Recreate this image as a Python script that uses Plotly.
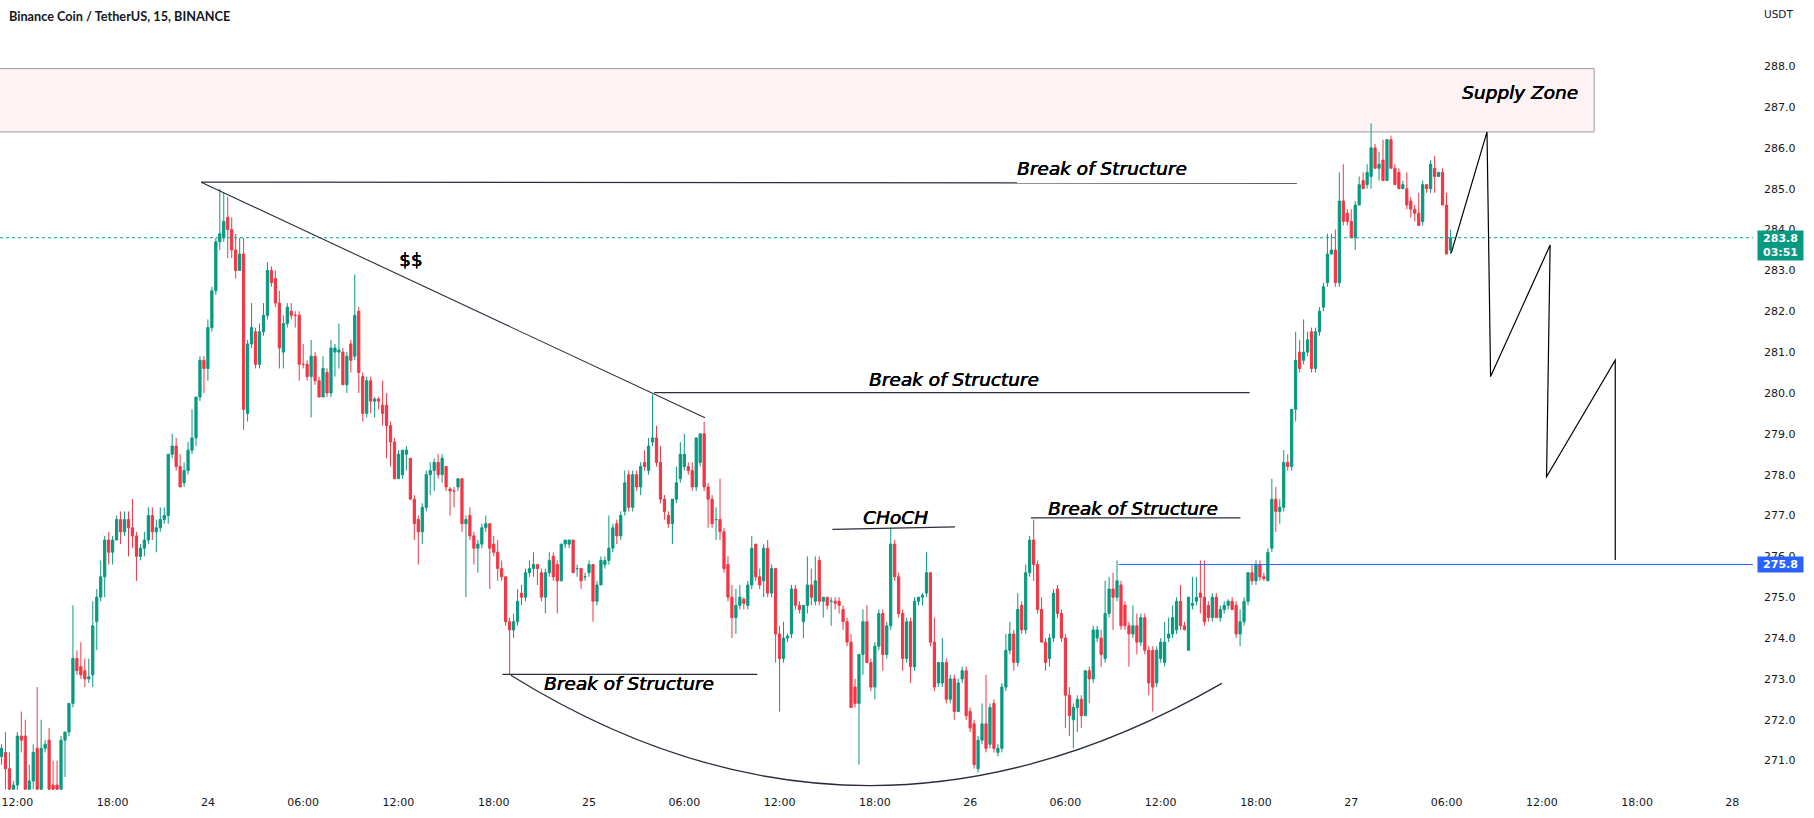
import plotly.graph_objects as go

# ---------------- data: 15-minute BNB/USDT candles ----------------
opens = [
    271.1, 271.2, 270.8, 270.3, 270.4, 271.6, 271.6, 270.3, 270.5, 271.3,
    270.3, 271.3, 271.5, 270.4, 270.4, 270.3, 271.5, 271.7, 272.4, 273.5,
    273.3, 273.2, 273.0, 273.1, 274.4, 275.0, 275.5, 276.4, 276.1, 276.4,
    276.9, 276.6, 276.9, 276.7, 276.5, 276.0, 276.2, 276.4, 277.0, 276.6,
    276.7, 276.9, 277.0, 278.5, 278.7, 278.2, 277.8, 278.1, 278.6, 278.9,
    279.9, 280.8, 280.6, 281.6, 282.5, 283.7, 283.8, 284.3, 284.0, 283.5,
    283.0, 283.4, 279.5, 281.2, 281.5, 280.7, 281.5, 281.9, 283.0, 282.8,
    282.2, 281.0, 281.7, 282.0, 281.9, 281.9, 280.7, 280.7, 280.4, 280.9,
    280.3, 279.9, 280.5, 280.0, 281.0, 281.0, 281.0, 280.2, 281.2, 280.9,
    282.0, 280.4, 279.5, 280.3, 279.8, 279.85, 279.7, 279.7, 279.2, 278.8,
    277.9, 278.0, 278.5, 278.4, 277.4, 276.9, 276.6, 277.2, 278.0, 278.1,
    278.3, 278.0, 278.2, 277.65, 277.6, 277.7, 277.9, 276.8, 277.0, 276.5,
    276.2, 276.3, 276.7, 276.8, 276.3, 276.1, 275.7, 275.5, 274.4, 274.2,
    274.4, 275.1, 275.0, 275.6, 275.7, 275.8, 275.6, 275.0, 275.6, 276.0,
    275.8, 275.4, 276.3, 276.3, 276.4, 275.7, 275.7, 275.5, 275.6, 275.8,
    274.9, 275.3, 275.8, 275.9, 276.2, 276.8, 276.5, 277.1, 278.0, 277.2,
    278.0, 277.7, 278.3, 278.1, 278.8, 278.9, 278.3, 277.4, 277.0, 276.8,
    277.4, 277.9, 278.2, 278.2, 278.1, 277.7, 278.3, 279.0, 277.7, 277.4,
    276.9, 276.9, 276.6, 275.8, 275.0, 274.5, 274.8, 274.95, 274.8, 275.3,
    276.3, 275.5, 275.4, 276.2, 275.1, 275.7, 274.1, 273.5, 274.0, 274.1,
    275.2, 274.8, 274.4, 274.8, 275.3, 274.9, 275.9, 274.9, 275.0, 274.9,
    274.9, 274.9, 274.7, 274.4, 273.9, 272.8, 272.4, 273.6, 274.4, 273.4,
    272.8, 273.8, 274.6, 273.6, 274.3, 276.3, 275.5, 274.6, 273.5, 274.4,
    273.3, 274.9, 275.0, 275.1, 275.6, 273.9, 272.9, 272.9, 273.4, 272.5,
    273.0, 272.2, 273.0, 273.2, 272.2, 271.9, 270.8, 271.5, 271.9, 271.4,
    272.4, 271.2, 271.3, 272.8, 273.7, 274.1, 273.4, 274.8, 274.2, 275.6,
    276.4, 275.8, 274.7, 273.9, 273.5, 274.0, 275.2, 274.6, 274.0, 272.6,
    272.0, 272.3, 272.5, 272.1, 273.2, 273.0, 274.0, 274.0, 273.5, 274.6,
    275.2, 275.0, 275.3, 274.8, 274.3, 274.1, 274.3, 273.9, 274.5, 273.7,
    273.7, 272.9, 273.5, 273.4, 274.0, 274.1, 274.2, 274.9, 274.3, 273.7,
    274.8, 274.9, 275.1, 275.0, 274.8, 274.5, 275.0, 274.5, 274.7, 274.8,
    274.9, 274.8, 274.1, 274.4, 274.9, 275.6, 275.4, 275.8, 275.5, 275.4,
    276.2, 277.4, 277.1, 277.2, 278.3, 278.2, 279.6, 281.0, 280.8, 281.0,
    281.5, 280.6, 281.5, 282.1, 282.7, 283.4, 283.5, 282.7, 284.7, 284.4,
    284.2, 283.8, 284.6, 285.2, 285.1, 285.3, 286.0, 285.5, 285.7, 285.2,
    286.2, 285.5, 285.4, 285.0, 285.0, 284.7, 284.5, 284.4, 284.2, 285.1,
    285.0, 285.5, 285.3, 285.4, 284.6, 283.5,
]
highs = [
    271.4, 271.7, 271.2, 270.5, 271.7, 272.2, 272.0, 270.9, 271.4, 272.8,
    272.0, 271.5, 271.8, 271.0, 271.0, 271.6, 271.7, 272.4, 274.8, 273.7,
    273.9, 273.5, 273.5, 274.9, 275.2, 275.9, 276.5, 276.6, 276.5, 277.0,
    277.1, 277.1, 277.1, 277.4, 276.6, 276.3, 276.6, 277.2, 277.2, 276.9,
    277.2, 277.2, 278.5, 279.0, 278.9, 278.5, 278.3, 278.8, 279.6, 279.9,
    280.9, 280.9, 281.8, 282.6, 283.8, 285.0, 284.9, 284.8, 284.3, 283.9,
    283.8, 283.8, 281.3, 282.2, 281.6, 281.7, 282.2, 283.2, 283.1, 283.0,
    282.5, 281.9, 282.2, 282.2, 282.0, 282.0, 281.2, 280.8, 281.3, 281.0,
    280.4, 280.9, 280.6, 281.3, 281.2, 281.7, 281.1, 281.0, 281.3, 282.9,
    282.1, 280.5, 280.4, 280.4, 279.9, 279.9, 280.3, 280.0, 279.3, 278.9,
    278.6, 278.6, 278.7, 278.4, 277.5, 277.0, 277.3, 278.1, 278.3, 278.4,
    278.5, 278.5, 278.2, 277.7, 277.7, 277.9, 277.9, 277.0, 277.2, 276.6,
    276.4, 276.8, 277.0, 276.8, 276.5, 276.4, 275.9, 275.5, 274.5, 274.6,
    275.2, 275.3, 275.7, 275.9, 276.1, 275.8, 275.7, 275.7, 276.1, 276.1,
    275.9, 276.3, 276.4, 276.4, 276.4, 275.8, 275.7, 275.6, 275.9, 275.8,
    275.4, 276.0, 276.0, 277.0, 276.8, 276.9, 277.1, 278.1, 278.1, 278.1,
    278.1, 278.3, 278.6, 278.9, 279.96, 279.2, 278.7, 277.5, 277.1, 277.4,
    278.2, 278.8, 279.0, 278.3, 278.3, 278.9, 279.0, 279.3, 277.8, 277.5,
    277.2, 277.9, 276.7, 276.0, 275.3, 275.2, 275.3, 275.0, 275.4, 276.5,
    276.3, 275.7, 276.3, 276.4, 275.8, 275.7, 274.3, 274.4, 274.1, 275.3,
    275.3, 274.9, 274.8, 276.0, 275.7, 276.0, 276.0, 275.0, 275.0, 275.0,
    275.0, 275.0, 274.8, 274.5, 274.1, 273.0, 273.6, 274.7, 274.8, 273.5,
    273.9, 274.7, 274.7, 274.4, 276.7, 276.4, 275.6, 274.7, 274.5, 274.5,
    275.0, 275.0, 275.1, 276.1, 275.6, 274.5, 273.4, 274.0, 273.5, 273.1,
    273.1, 273.0, 273.3, 273.3, 272.3, 272.0, 271.6, 272.4, 273.1, 272.4,
    272.5, 271.4, 272.9, 274.1, 274.4, 274.2, 275.1, 274.9, 275.8, 276.5,
    276.9, 275.9, 275.0, 274.0, 274.1, 275.2, 275.3, 274.7, 274.1, 272.8,
    272.4, 272.6, 272.6, 273.2, 273.3, 274.3, 274.3, 274.2, 275.4, 275.5,
    275.6, 275.9, 275.4, 274.9, 274.4, 274.8, 274.6, 274.6, 274.6, 273.8,
    273.8, 273.8, 274.0, 274.4, 274.5, 274.8, 275.0, 275.3, 274.4, 275.0,
    275.5, 275.5, 275.9, 275.9, 274.9, 275.1, 275.1, 274.8, 274.9, 274.95,
    275.0, 274.9, 274.7, 275.0, 275.6, 275.8, 275.9, 275.9, 275.6, 276.2,
    277.9, 277.7, 277.4, 278.6, 278.5, 279.6, 281.5, 281.3, 281.8, 281.5,
    281.6, 281.6, 282.1, 282.7, 283.9, 283.9, 284.0, 285.4, 285.6, 284.5,
    284.5, 284.7, 285.3, 285.4, 285.6, 286.6, 286.1, 285.9, 286.2, 286.2,
    286.3, 285.6, 285.5, 285.2, 285.4, 284.8, 284.6, 284.9, 285.2, 285.1,
    285.7, 285.8, 285.4, 285.5, 284.9, 284.0,
]
lows = [
    270.9, 270.3, 270.2, 270.2, 270.2, 271.2, 270.2, 270.2, 270.3, 270.2,
    270.2, 271.2, 270.2, 270.2, 270.2, 270.2, 270.6, 271.6, 272.3, 273.1,
    273.0, 272.8, 272.9, 272.8, 273.7, 274.9, 275.0, 275.8, 275.8, 276.4,
    276.3, 276.5, 276.0, 276.2, 275.4, 275.9, 276.0, 276.3, 276.4, 276.1,
    276.6, 276.8, 276.8, 278.4, 278.1, 277.7, 277.7, 278.0, 278.5, 278.7,
    279.8, 280.0, 280.3, 281.5, 282.4, 283.5, 283.7, 283.3, 283.3, 282.8,
    283.0, 279.1, 279.3, 281.1, 280.6, 280.6, 281.4, 281.8, 282.6, 282.1,
    280.6, 280.6, 281.6, 281.8, 281.6, 280.3, 280.6, 280.3, 279.4, 280.2,
    279.9, 279.9, 279.9, 279.9, 280.4, 280.6, 280.2, 280.0, 280.5, 280.8,
    280.0, 279.3, 279.4, 279.5, 279.4, 279.6, 279.2, 278.4, 278.2, 277.9,
    277.9, 277.9, 278.1, 277.4, 276.4, 275.8, 276.3, 277.1, 277.5, 277.6,
    277.9, 277.8, 277.6, 277.0, 277.2, 277.6, 276.6, 275.0, 276.4, 275.8,
    275.6, 276.2, 276.6, 275.2, 276.0, 275.4, 275.4, 274.3, 273.1, 274.0,
    274.3, 274.8, 274.9, 275.5, 275.5, 275.3, 274.9, 274.6, 275.5, 275.4,
    274.6, 275.4, 276.2, 276.2, 275.6, 275.5, 275.2, 275.4, 275.5, 274.4,
    274.8, 275.3, 275.7, 275.8, 276.1, 276.3, 276.4, 277.0, 277.1, 277.1,
    277.6, 277.5, 278.1, 278.0, 278.7, 278.2, 277.3, 276.9, 276.7, 276.3,
    277.3, 277.8, 278.1, 278.0, 277.6, 277.6, 278.2, 277.6, 276.7, 276.7,
    276.4, 276.4, 275.6, 274.9, 274.0, 274.1, 274.7, 274.7, 274.7, 275.2,
    275.4, 275.2, 275.0, 275.0, 275.0, 273.4, 272.2, 273.4, 273.9, 274.0,
    274.7, 274.6, 274.0, 274.6, 274.8, 274.8, 274.8, 274.5, 274.7, 274.3,
    274.7, 274.6, 274.2, 273.8, 272.3, 272.3, 270.9, 273.1, 273.4, 272.7,
    272.5, 273.7, 273.2, 273.5, 274.2, 275.4, 274.5, 273.2, 273.4, 272.9,
    273.2, 274.8, 274.8, 275.0, 273.8, 272.7, 272.8, 272.8, 272.4, 272.4,
    272.0, 272.2, 272.9, 272.0, 271.7, 270.8, 270.7, 271.4, 271.2, 271.3,
    271.2, 271.1, 271.2, 272.7, 273.6, 273.2, 273.3, 274.1, 274.1, 275.5,
    275.4, 274.6, 273.9, 273.2, 273.3, 273.9, 274.5, 273.9, 271.8, 271.6,
    271.3, 271.7, 271.8, 272.1, 272.4, 272.9, 273.9, 273.3, 273.4, 274.5,
    274.2, 274.9, 274.2, 274.2, 273.3, 274.0, 273.6, 273.8, 273.6, 272.6,
    272.2, 272.8, 273.4, 273.3, 273.9, 274.0, 274.1, 274.2, 274.2, 273.7,
    274.7, 274.8, 274.6, 274.3, 274.4, 274.4, 274.5, 274.4, 274.6, 274.7,
    274.7, 274.0, 273.8, 274.3, 274.8, 275.3, 275.3, 275.4, 275.4, 275.4,
    276.1, 276.6, 276.8, 277.1, 278.1, 278.1, 279.3, 280.5, 280.7, 280.9,
    280.5, 280.5, 281.4, 282.0, 282.6, 283.4, 282.6, 282.6, 284.1, 284.1,
    283.8, 283.5, 284.6, 285.0, 285.0, 285.0, 285.5, 285.2, 285.2, 285.2,
    285.5, 285.1, 285.0, 285.0, 284.5, 284.3, 284.2, 284.1, 284.1, 284.9,
    284.9, 284.9, 285.3, 284.6, 283.4, 283.4,
]
closes = [
    271.3, 270.8, 270.3, 270.4, 271.6, 271.5, 270.3, 270.5, 271.2, 270.3,
    271.3, 271.4, 270.3, 270.3, 270.3, 271.5, 271.7, 272.4, 273.5, 273.2,
    273.1, 273.0, 273.05, 274.3, 275.0, 275.5, 276.4, 276.1, 276.4, 276.9,
    276.6, 276.9, 276.7, 276.5, 276.0, 276.2, 276.4, 277.0, 276.6, 276.7,
    276.9, 277.0, 278.5, 278.7, 278.2, 277.7, 278.1, 278.6, 278.9, 279.9,
    280.8, 280.6, 281.6, 282.5, 283.7, 283.9, 284.2, 284.0, 283.5, 283.0,
    283.4, 279.6, 281.2, 281.6, 280.7, 281.5, 281.9, 283.0, 282.7, 282.2,
    281.1, 281.7, 282.1, 281.9, 281.9, 280.7, 280.7, 280.4, 280.9, 280.3,
    279.9, 280.6, 280.0, 281.1, 281.1, 281.05, 280.2, 280.9, 280.8, 281.9,
    280.5, 279.5, 280.3, 279.8, 279.85, 279.8, 279.5, 279.2, 278.8, 277.9,
    278.5, 278.6, 278.6, 277.4, 276.8, 276.6, 277.2, 278.0, 278.1, 278.3,
    278.0, 278.4, 277.7, 277.6, 277.6, 277.9, 276.8, 276.9, 276.5, 276.2,
    276.3, 276.7, 276.8, 276.2, 276.1, 275.7, 275.5, 274.4, 274.2, 274.4,
    274.9, 275.0, 275.6, 275.7, 275.8, 275.7, 275.0, 275.6, 275.9, 275.5,
    275.4, 276.3, 276.4, 276.4, 275.6, 275.7, 275.4, 275.5, 275.8, 274.9,
    275.3, 275.9, 275.9, 276.2, 276.7, 276.5, 277.0, 277.8, 277.2, 278.0,
    277.7, 278.2, 278.2, 278.7, 278.9, 278.3, 277.4, 277.1, 276.8, 277.4,
    277.8, 278.5, 278.5, 278.1, 277.7, 278.9, 279.0, 277.7, 277.4, 276.8,
    276.9, 276.6, 275.7, 275.0, 274.5, 274.8, 275.0, 274.85, 275.3, 276.2,
    275.5, 275.3, 276.2, 275.1, 275.7, 274.1, 273.5, 274.0, 274.05, 275.2,
    274.8, 274.7, 274.8, 275.3, 275.0, 275.4, 274.9, 275.0, 274.8, 274.9,
    274.85, 274.8, 274.4, 273.9, 272.3, 272.4, 273.6, 274.4, 273.4, 272.8,
    273.8, 274.6, 273.6, 274.3, 276.3, 275.5, 274.6, 273.5, 274.4, 273.3,
    274.9, 275.0, 275.05, 275.6, 273.9, 272.8, 273.4, 273.4, 272.5, 273.0,
    272.2, 272.9, 273.2, 272.1, 271.8, 270.9, 271.5, 271.9, 271.3, 272.3,
    271.3, 271.3, 272.8, 273.7, 274.1, 273.4, 274.7, 274.2, 275.6, 276.4,
    275.8, 274.7, 273.9, 273.4, 274.0, 275.1, 274.6, 274.0, 272.6, 272.1,
    272.3, 272.5, 272.1, 273.2, 273.0, 274.2, 274.2, 273.6, 274.6, 275.2,
    275.0, 275.4, 274.3, 274.3, 274.1, 274.3, 273.9, 274.5, 273.7, 272.9,
    272.8, 273.7, 273.9, 273.9, 274.1, 274.5, 274.9, 274.3, 274.2, 275.0,
    274.85, 275.0, 275.0, 274.4, 274.5, 275.0, 274.5, 274.7, 274.8, 274.9,
    274.7, 274.1, 274.4, 274.9, 275.6, 275.4, 275.8, 275.5, 275.45, 276.1,
    277.4, 277.1, 277.2, 278.3, 278.2, 279.6, 280.8, 280.6, 281.0, 281.3,
    280.6, 281.5, 282.0, 282.6, 283.4, 283.5, 282.7, 284.7, 284.2, 284.2,
    283.8, 284.6, 285.1, 285.0, 285.4, 286.0, 285.5, 285.6, 285.2, 286.2,
    285.5, 285.1, 285.0, 285.1, 284.6, 284.5, 284.4, 284.1, 285.1, 285.0,
    285.6, 285.3, 285.4, 284.6, 283.4, 283.8,
]

time_tick_labels = ["12:00", "18:00", "24", "06:00", "12:00", "18:00", "25", "06:00",
                    "12:00", "18:00", "26", "06:00", "12:00", "18:00", "27", "06:00",
                    "12:00", "18:00", "28"]
price_ticks = [271.0, 272.0, 273.0, 274.0, 275.0, 276.0, 277.0, 278.0, 279.0,
               280.0, 281.0, 282.0, 283.0, 284.0, 285.0, 286.0, 287.0, 288.0]
last_price = 283.8
countdown = "03:51"
target_level = 275.8
title_text = "Binance Coin / TetherUS, 15, BINANCE"

assert len(opens) == len(highs) == len(lows) == len(closes)

# bar index: 15-minute bars counted from 23rd 12:00 (first visible bar is 4 bars earlier)
FIRST_BAR = -4
bars = list(range(FIRST_BAR, FIRST_BAR + len(closes)))
BARS_PER_6H = 24
tick_positions = [k * BARS_PER_6H for k in range(len(time_tick_labels))]

X_RANGE = [-4.37, 437.2]
Y_RANGE = [270.28, 289.62]

UP = "#089981"
DOWN = "#f23645"
INK = "#131722"
LINE = "#2a2e39"

fig = go.Figure()
fig.add_trace(go.Candlestick(
    x=bars, open=opens, high=highs, low=lows, close=closes,
    increasing=dict(line=dict(color=UP, width=1), fillcolor=UP),
    decreasing=dict(line=dict(color=DOWN, width=1), fillcolor=DOWN),
    whiskerwidth=0, showlegend=False, hoverinfo="skip",
))

shapes = []
# supply zone
shapes.append(dict(type="rect", xref="x", yref="y", x0=-20, x1=397.2, y0=286.39, y1=287.94,
                   fillcolor="#fdf3f4", line=dict(color="#9a9ca3", width=1), layer="below"))
# current price dotted line
shapes.append(dict(type="line", xref="paper", yref="y", x0=0, x1=1, y0=last_price, y1=last_price,
                   line=dict(color=UP, width=1, dash="dot")))
# target horizontal line
shapes.append(dict(type="line", xref="x", yref="y", x0=277.4, x1=X_RANGE[1], y0=target_level, y1=target_level,
                   line=dict(color="#2962ff", width=1)))

def seg(x0, y0, x1, y1, w=1.2):
    return dict(type="line", xref="x", yref="y", x0=x0, y0=y0, x1=x1, y1=y1,
                line=dict(color=LINE, width=w))

shapes.append(seg(46.3, 285.16, 322.3, 285.14, 1.3))     # upper BOS
shapes.append(seg(46.3, 285.16, 173.2, 279.39, 1.1))     # liquidity trend line
shapes.append(seg(160.4, 280.01, 310.4, 280.01, 1.3))    # middle BOS
shapes.append(seg(122.2, 273.11, 186.4, 273.11, 1.3))    # lower-left BOS
shapes.append(seg(205.3, 276.66, 236.2, 276.72, 1.3))    # CHoCH
shapes.append(seg(255.3, 276.94, 308.1, 276.94, 1.3))    # right BOS
# rounded bottom arc
shapes.append(dict(type="path", xref="x", yref="y",
                   path="M 124.3,273.09 Q 212.15,267.79 303.4,272.89",
                   line=dict(color=LINE, width=1.3)))
# projected zig-zag
zig = [(361.2, 283.43), (370.2, 286.39), (371.1, 280.40), (386.1, 283.62),
       (385.2, 277.95), (402.5, 280.80), (402.5, 275.91)]
zpath = "M " + " L ".join(f"{a},{b}" for a, b in zig)
shapes.append(dict(type="path", xref="x", yref="y", path=zpath,
                   line=dict(color="#000000", width=1.2)))

HEAVY = "0.45px 0 0 #000000, 0 0.3px 0 #000000"
TXT = dict(family="DejaVu Sans", size=18.5, color="#000000", style="italic", shadow=HEAVY)
anns = []
def label(text, x, y, font=TXT):
    anns.append(dict(text=text, x=x, y=y, xref="x", yref="y", showarrow=False,
                     xanchor="center", yanchor="middle", font=font))

label("Break of Structure", 273.1, 285.49)
label("Break of Structure", 236.0, 280.32)
label("Break of Structure", 154.1, 272.89)
label("Break of Structure", 281.1, 277.16)
label("CHoCH", 221.1, 276.96)
label("Supply Zone", 378.4, 287.36)
label("$$", 99.1, 283.26, dict(family="DejaVu Sans", size=18.5, color="#000000", shadow=HEAVY))

PW = 1753.0
PH = 790.0
anns.append(dict(text=title_text, x=7 / PW, y=1 - 16 / PH, xref="paper", yref="paper",
                 showarrow=False, xanchor="left", yanchor="middle",
                 font=dict(family="Lato", size=12.7, color=INK, weight="bold")))
anns.append(dict(text="USDT", x=1778 / PW, y=1 - 14 / PH, xref="paper", yref="paper",
                 showarrow=False, xanchor="center", yanchor="middle",
                 font=dict(family="DejaVu Sans", size=10.5, color=INK)))
anns.append(dict(text=f"<b>{last_price:.1f}</b><br><b>{countdown}</b>", x=1757 / PW, y=last_price + 0.2,
                 xref="paper", yref="y", showarrow=False, xanchor="left", yanchor="top",
                 align="center", bgcolor=UP, borderpad=1, width=43,
                 font=dict(family="DejaVu Sans", size=11, color="#ffffff")))
anns.append(dict(text=f"<b>{target_level:.1f}</b>", x=1757 / PW, y=target_level,
                 xref="paper", yref="y", showarrow=False, xanchor="left", yanchor="middle",
                 align="center", bgcolor="#2962ff", borderpad=1, width=43,
                 font=dict(family="DejaVu Sans", size=11, color="#ffffff")))

fig.update_layout(
    width=1814, height=818,
    margin=dict(l=0, r=61, t=0, b=28),
    paper_bgcolor="#ffffff", plot_bgcolor="#ffffff",
    shapes=shapes, annotations=anns,
    boxgap=0.2,
    xaxis=dict(range=X_RANGE, tickmode="array", tickvals=tick_positions, ticktext=time_tick_labels,
               showgrid=False, zeroline=False, showline=False, ticks="", rangeslider=dict(visible=False),
               tickfont=dict(family="DejaVu Sans", size=11, color=INK), automargin=False,
               ticklabelstandoff=4, fixedrange=True),
    yaxis=dict(range=Y_RANGE, side="right", tickmode="array", tickvals=price_ticks,
               ticktext=[f"{v:.1f}" for v in price_ticks],
               showgrid=False, zeroline=False, showline=False, ticks="",
               tickfont=dict(family="DejaVu Sans", size=11, color=INK), automargin=False,
               ticklabelstandoff=10, fixedrange=True),
    hovermode=False,
)

fig.write_html("out.html")
